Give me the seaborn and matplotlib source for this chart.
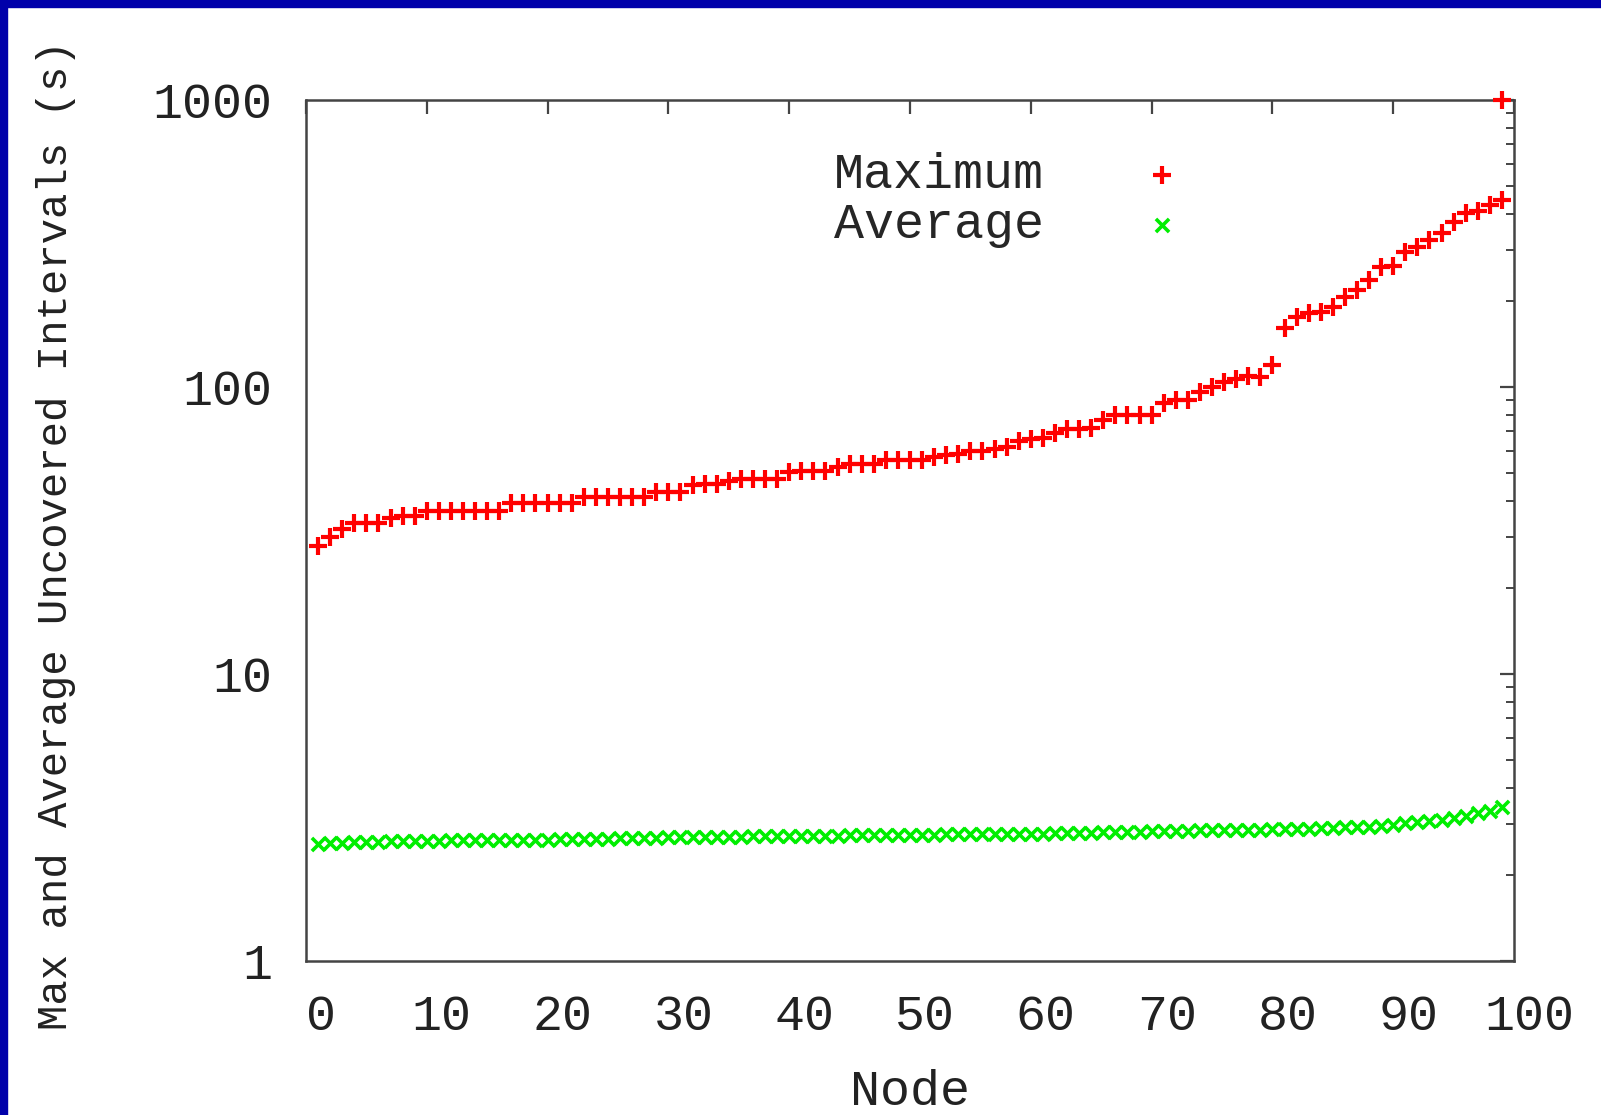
import matplotlib
matplotlib.use("Agg")
import matplotlib.pyplot as plt
import seaborn as sns
import numpy as np
import pandas as pd
from matplotlib.patches import Rectangle
from matplotlib.ticker import LogLocator, NullFormatter, FixedLocator
from matplotlib.transforms import ScaledTranslation

# data (nodes sorted by maximum interval)
nodes = list(range(1, 100))
max_interval = [
    28, 30, 32, 33.5, 33.5, 33.5, 35, 35.5, 35.5, 37,
    37, 37, 37, 37, 37, 37, 39.5, 39.5, 39.5, 39.5,
    39.5, 39.5, 41.5, 41.5, 41.5, 41.5, 41.5, 41.5, 43, 43,
    43, 45.5, 46, 46, 47, 48, 48, 48, 48, 50.5,
    51, 51, 51, 52.5, 54, 54, 54, 55.5, 55.5, 55.5,
    55.5, 57, 58, 58.5, 60, 60, 61, 62, 65, 66,
    66.5, 69, 71.5, 71.5, 72, 77, 80, 80, 80, 80,
    88, 90, 90, 96, 100, 104, 107, 109, 108, 119,
    160, 176, 181, 182, 190, 206, 218, 236, 262, 264,
    296, 308, 325, 343, 376, 404, 411, 431, 450,
]
avg_interval = [
    2.55, 2.57, 2.58, 2.59, 2.60, 2.60, 2.61, 2.61, 2.62, 2.62,
    2.62, 2.63, 2.63, 2.63, 2.64, 2.64, 2.64, 2.65, 2.65, 2.65,
    2.66, 2.66, 2.67, 2.67, 2.67, 2.68, 2.68, 2.69, 2.69, 2.70,
    2.70, 2.70, 2.71, 2.71, 2.71, 2.71, 2.72, 2.72, 2.72, 2.72,
    2.73, 2.73, 2.73, 2.73, 2.74, 2.74, 2.74, 2.74, 2.75, 2.75,
    2.75, 2.75, 2.76, 2.76, 2.76, 2.76, 2.77, 2.77, 2.77, 2.78,
    2.78, 2.79, 2.79, 2.80, 2.80, 2.81, 2.81, 2.82, 2.82, 2.83,
    2.83, 2.84, 2.84, 2.85, 2.85, 2.86, 2.86, 2.87, 2.87, 2.88,
    2.88, 2.89, 2.89, 2.90, 2.91, 2.92, 2.93, 2.94, 2.96, 2.98,
    3.02, 3.05, 3.08, 3.11, 3.15, 3.21, 3.27, 3.33, 3.45,
]
# one extra maximum sitting on the top edge
outlier_node = [99]
outlier_max = [1000]

x_ticks = [0, 10, 20, 30, 40, 50, 60, 70, 80, 90, 100]
y_ticks = [1, 10, 100, 1000]
y_tick_labels = ["1", "10", "100", "1000"]

df_max = pd.DataFrame({"Node": nodes + outlier_node, "Value": max_interval + outlier_max})
df_avg = pd.DataFrame({"Node": nodes, "Value": avg_interval})

sns.set_style("white")
plt.rcParams["font.family"] = ["Liberation Mono", "DejaVu Sans"]

fig = plt.figure(figsize=(16.01, 11.15), dpi=100)
ax = fig.add_axes([0.1911, 0.1381, 0.7546, 0.7722])

sns.scatterplot(data=df_max, x="Node", y="Value", marker="+", color="#FF0000",
                s=150, linewidth=3.0, label="Maximum", ax=ax, clip_on=False, zorder=3)
sns.scatterplot(data=df_avg, x="Node", y="Value", marker="x", color="#00EE00",
                s=90, linewidth=2.6, label="Average", ax=ax, zorder=3)

ax.set_yscale("log")
ax.set_xlim(0, 100)
ax.set_ylim(1, 1000)
ax.xaxis.set_major_locator(FixedLocator(x_ticks))
ax.set_yticks(y_ticks)
ax.set_yticklabels(y_tick_labels)
ax.yaxis.set_minor_locator(LogLocator(base=10, subs=np.arange(2, 10)))
ax.yaxis.set_minor_formatter(NullFormatter())

for side in ["left", "right", "top", "bottom"]:
    ax.spines[side].set_color("#444444")
    ax.spines[side].set_linewidth(1.8)

ax.tick_params(axis="both", which="major", direction="in", length=10, width=1.6,
               color="#444444", top=True, right=True, labelsize=36, labelcolor="#222222")
ax.tick_params(axis="y", which="minor", direction="in", length=5.5, width=1.4,
               color="#444444", right=True)
ax.tick_params(axis="x", which="minor", bottom=False, top=False)
ax.tick_params(axis="x", pad=24)
ax.tick_params(axis="y", pad=24)

# gnuplot puts x labels a bit right of the ticks
offset = ScaledTranslation(0.15, 0, fig.dpi_scale_trans)
for lab in ax.get_xticklabels():
    lab.set_transform(lab.get_transform() + offset)

ax.set_xlabel("Node", fontsize=36, color="#222222", va="top")
ax.xaxis.set_label_coords(0.5, -0.125)
ax.set_ylabel("Max and Average Uncovered Intervals (s)", fontsize=30.5, color="#222222", va="center")
ax.yaxis.set_label_coords(-0.207, 0.495)

ax.legend(loc="upper left", bbox_to_anchor=(0.4, 0.992), frameon=False,
          markerfirst=False, handlelength=1.0, handletextpad=1.86,
          labelspacing=0.08, fontsize=36, borderpad=0.4)

# blue frame of the slide
fig.add_artist(Rectangle((0, 1 - 7 / 1115), 1, 7 / 1115, transform=fig.transFigure,
                         color="#0000AA", zorder=10))
fig.add_artist(Rectangle((0, 0), 7 / 1601, 1, transform=fig.transFigure,
                         color="#0000AA", zorder=10))

fig.savefig("out.png", dpi=100)
